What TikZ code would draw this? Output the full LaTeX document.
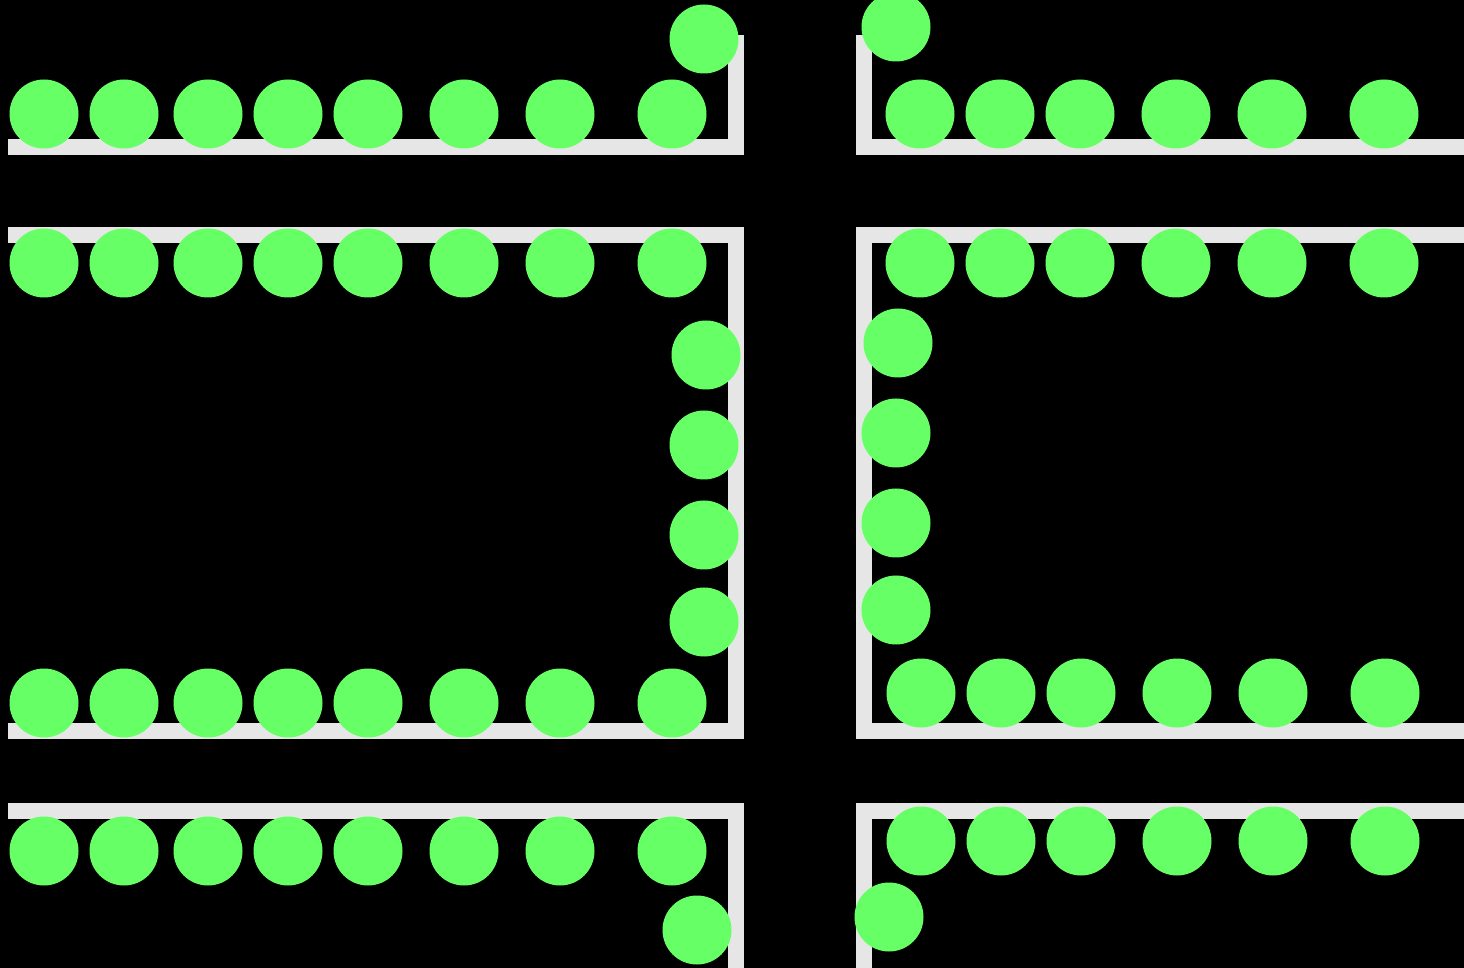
\documentclass[tikz,border=0pt]{standalone}
\begin{document}
\begin{tikzpicture}[x=0.5pt,y=-0.5pt,
  wall/.style={fill=wallgray,draw=none},
  ball/.style={circle,fill=ballgreen,draw=none,minimum size=34.5pt,inner sep=0pt}]
\definecolor{wallgray}{HTML}{E6E6E6}
\definecolor{ballgreen}{HTML}{66FF66}
\fill[black] (0,0) rectangle (1464,968);
\useasboundingbox (0,0) rectangle (1464,968);
% walls left
\fill[wallgray] (8,139) rectangle (744,155);
\fill[wallgray] (728,35) rectangle (744,155);
\fill[wallgray] (8,227) rectangle (744,243);
\fill[wallgray] (728,227) rectangle (744,739);
\fill[wallgray] (8,723) rectangle (744,739);
\fill[wallgray] (8,803) rectangle (744,819);
\fill[wallgray] (728,803) rectangle (744,968);
% walls right
\fill[wallgray] (856,139) rectangle (1464,155);
\fill[wallgray] (856,35) rectangle (872,155);
\fill[wallgray] (856,227) rectangle (1464,243);
\fill[wallgray] (856,227) rectangle (872,739);
\fill[wallgray] (856,723) rectangle (1464,739);
\fill[wallgray] (856,803) rectangle (1464,819);
\fill[wallgray] (856,803) rectangle (872,968);
% left rows
\foreach \x [count=\i] in {44,124,208,288,368,464,560,672} {
  \node[ball] (la\i) at (\x,114) {};
  \node[ball] (lb\i) at (\x,263) {};
  \node[ball] (lc\i) at (\x,703) {};
  \node[ball] (ld\i) at (\x,851) {};
}
\node[ball] (lx1) at (704,39) {};
\node[ball] (lx2) at (706,355) {};
\node[ball] (lx3) at (704,445) {};
\node[ball] (lx4) at (704,535) {};
\node[ball] (lx5) at (704,622) {};
\node[ball] (lx6) at (697,930) {};
% right rows
\foreach \x [count=\i] in {920,1000,1080,1176,1272,1384} {
  \node[ball] (ra\i) at (\x,114) {};
  \node[ball] (rb\i) at (\x,263) {};
  \node[ball] (rc\i) at (\x+1,693) {};
  \node[ball] (rd\i) at (\x+1,841) {};
}
\node[ball] (rx1) at (896,27) {};
\node[ball] (rx2) at (898,343) {};
\node[ball] (rx3) at (896,433) {};
\node[ball] (rx4) at (896,523) {};
\node[ball] (rx5) at (896,610) {};
\node[ball] (rx6) at (889,917) {};
\end{tikzpicture}
\end{document}
